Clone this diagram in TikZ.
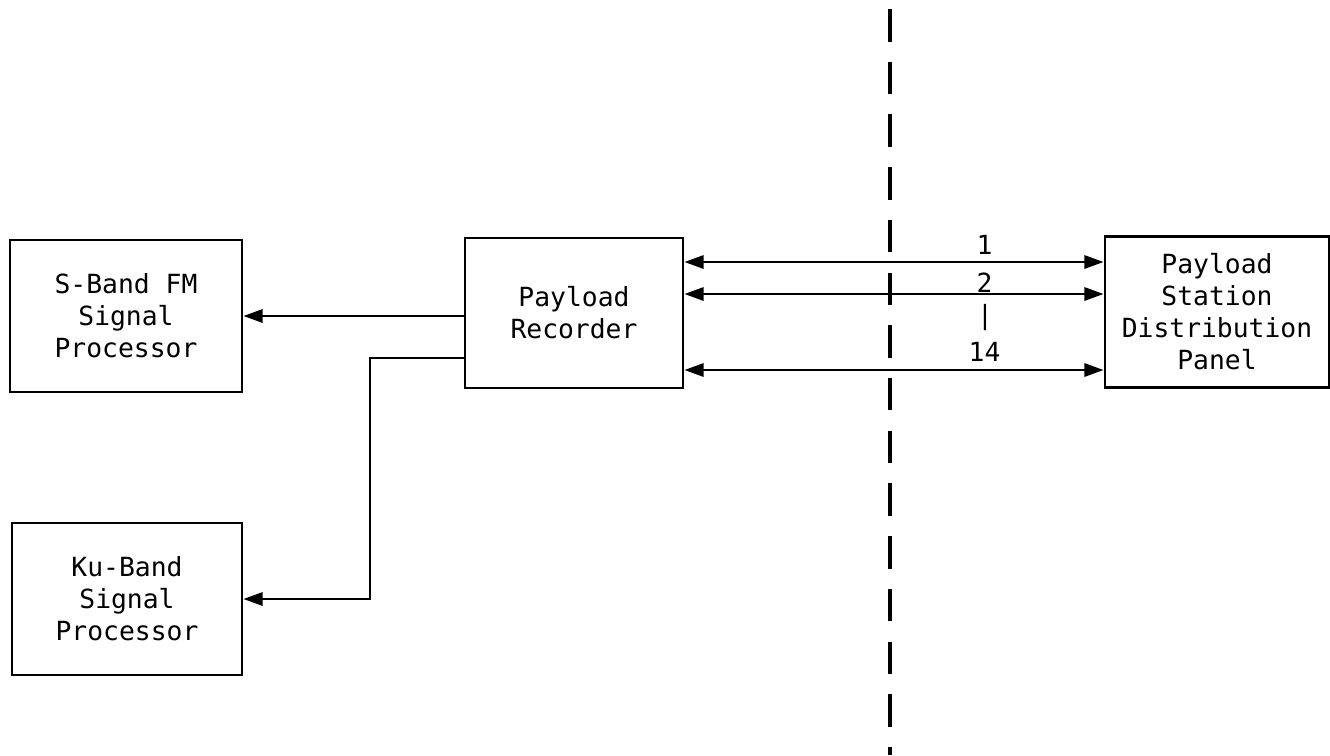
\documentclass[tikz,border=0pt]{standalone}
\usepackage{fontspec}
\usepackage{tikz}
\usetikzlibrary{arrows.meta,positioning,calc}
\newfontfamily\typewr{DejaVu Sans Mono}

\begin{document}
\begin{tikzpicture}[x=0.02cm, y=-0.02cm,
    unit/.style={rectangle, draw=black, line width=1.6pt, align=center,
                 font=\typewr\fontsize{15}{18.2}\selectfont, inner sep=2pt},
    arr/.style={-{Triangle[length=11pt, width=7.5pt]}, line width=1.6pt},
    dbl/.style={{Triangle[length=11pt, width=7.5pt]}-{Triangle[length=11pt, width=7.5pt]}, line width=1.6pt},
    cut/.style={line width=2.3pt, dash pattern=on 18.5pt off 11.5pt}
]
    \useasboundingbox (0,0) rectangle (1330,755);

    \node[unit, minimum width=4.64cm, minimum height=3.04cm] (sband) at ( 126,316) {S-Band FM\\Signal\\Processor};
    \node[unit, minimum width=4.60cm, minimum height=3.04cm] (ku)    at ( 127,599) {Ku-Band\\Signal\\Processor};
    \node[unit, minimum width=4.36cm, minimum height=3.00cm] (rec)   at ( 574,313) {Payload\\Recorder};
    \node[unit, minimum width=4.48cm, minimum height=3.02cm] (panel) at (1217,312) {Payload\\Station\\Distribution\\Panel};

    \coordinate (bend) at (370,358);
    \coordinate (top)  at (890,9);
    \coordinate (bot)  at (890,755);

    \draw[cut] (top) -- (bot);

    \draw[arr] (rec.west |- sband.east) -- (sband.east);
    \draw[arr] (rec.west |- bend) -- (bend) |- (ku.east);

    \foreach \y/\lab/\sep in {262/1/0pt, 294/2/-3.5pt, 370/14/0.5pt}
        \draw[dbl] (rec.east |- 0,\y) -- (panel.west |- 0,\y)
            node[pos=0.716, above=\sep, font=\typewr\fontsize{15}{18.2}\selectfont] {\lab};
    \node[font=\typewr\fontsize{15}{18.2}\selectfont] (gap) at (985,318) {|};
\end{tikzpicture}
\end{document}
